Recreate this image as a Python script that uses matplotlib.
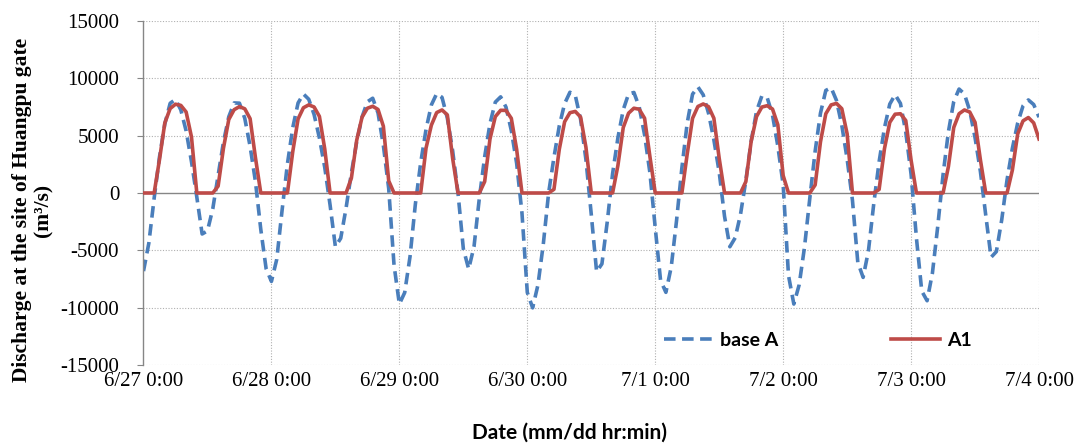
import numpy as np
import matplotlib.pyplot as plt

# hourly discharge at Huangpu gate, 6/27 0:00 .. 7/4 0:00 (m3/s)
base_a = [
    -6800, -4370, -450, 3140, 6010, 7810, 8140, 7240, 5400, 2730, -350,
    -3570, -3300, -1370, 1560, 4440, 6640, 7840, 7820, 6500, 4060, 1000, -3160,
    -6580, -7700, -5770, -1500, 2530, 5690, 7840, 8620, 8160, 6840, 4790, 2230, -1040,
    -4680, -3940, -1320, 1750, 4470, 6620, 7940, 8250, 6960, 4140, 390, -6280,
    -9670, -8670, -5540, -980, 2630, 5530, 7660, 8650, 8330, 6520, 3660, 0,
    -4850, -6620, -4680, -470, 3140, 6050, 7910, 8370, 7480, 5440, 2590, -1740,
    -8660, -10000, -8000, -4460, 0, 3100, 5840, 7780, 8770, 8500, 6410, 2900, -1860,
    -6850, -6170, -2510, 1680, 4810, 7250, 8630, 8750, 7480, 5060, 1770, -3030,
    -7600, -8650, -6440, -2400, 2190, 6100, 8600, 9240, 8550, 6940, 4630, 1810, -2030,
    -4680, -3900, -1860, 1090, 4510, 7100, 8450, 8310, 6790, 4080, 710, -7180,
    -9670, -8000, -4730, -450, 3640, 6950, 8930, 9160, 8060, 5900, 2960, -640,
    -6030, -7350, -5030, -920, 2720, 5660, 7740, 8560, 7800, 5310, 1620, -3920,
    -8540, -9380, -6970, -2900, 1610, 5330, 7960, 9050, 8620, 7170, 4810, 1880, -1920,
    -5600, -5100, -2340, 1150, 3890, 6100, 7590, 8100, 7700, 6600,
]

a1 = [
    0, 0, 0, 2900, 6100, 7350, 7730, 7630, 7050, 4880, 0,
    0, 0, 0, 600, 3900, 6400, 7250, 7520, 7330, 6470, 3080, 0,
    0, 0, 0, 0, 0, 3600, 6450, 7420, 7670, 7490, 6670, 3840, 0,
    0, 0, 0, 1300, 4600, 6600, 7380, 7550, 7270, 5810, 1060, 0,
    0, 0, 0, 0, 0, 3900, 5900, 7000, 7230, 6800, 3000, 0,
    0, 0, 0, 0, 990, 4700, 6650, 7200, 7190, 6500, 3800, 0,
    0, 0, 0, 0, 0, 320, 3800, 6200, 6990, 7100, 6610, 3980, 0,
    0, 0, 0, 0, 2400, 5700, 6950, 7380, 7290, 6510, 3180, 0,
    0, 0, 0, 0, 0, 3400, 6500, 7530, 7750, 7520, 6510, 3020, 0,
    0, 0, 0, 990, 4500, 6650, 7480, 7600, 7310, 5940, 1520, 0,
    0, 0, 0, 0, 700, 4450, 6900, 7670, 7800, 7340, 5150, 0,
    0, 0, 0, 0, 310, 3850, 6150, 6860, 6900, 6310, 2850, 0,
    0, 0, 0, 0, 0, 2300, 5700, 6900, 7230, 7050, 6150, 2890, 0,
    0, 0, 0, 0, 2000, 5150, 6280, 6570, 6100, 4700,
]

day_labels = ['6/27 0:00', '6/28 0:00', '6/29 0:00', '6/30 0:00',
              '7/1 0:00', '7/2 0:00', '7/3 0:00', '7/4 0:00']
y_ticks = [-15000, -10000, -5000, 0, 5000, 10000, 15000]

hours = np.arange(len(base_a))
serif = 'Liberation Serif'
sans = 'Lato'

fig = plt.figure(figsize=(10.83, 4.47), dpi=100)
ax = fig.add_axes([0.1325, 0.1828, 0.8269, 0.7709])

grid_kw = dict(color='#b0b0b0', lw=0.8, ls=(0, (1, 1.5)), zorder=0)
for y in y_ticks:
    if y != 0:
        ax.axhline(y, **grid_kw)
for i in range(1, len(day_labels)):
    ax.axvline(i * 24, **grid_kw)
ax.axhline(0, color='#868686', lw=1.0, zorder=1)

ax.plot(hours, base_a, color='#4a7ebb', lw=2.6, ls=(0, (3.2, 1.8)),
        dash_joinstyle='round', label='base A', zorder=2)
ax.plot(hours, a1, color='#be4b48', lw=2.6, solid_joinstyle='round',
        label='A1', zorder=3)

ax.set_xlim(0, 24 * (len(day_labels) - 1))
ax.set_ylim(-15000, 15000)
ax.set_xticks(np.arange(len(day_labels)) * 24)
ax.set_xticklabels(day_labels, fontfamily=serif, fontsize=15)
ax.set_yticks(y_ticks)
ax.set_yticklabels([str(v) for v in y_ticks], fontfamily=serif, fontsize=15)
ax.tick_params(axis='x', length=0, pad=5)
ax.tick_params(axis='y', length=4.5, width=0.8, color='#868686', pad=13)

for s in ['top', 'right', 'bottom']:
    ax.spines[s].set_visible(False)
ax.spines['left'].set_color('#868686')
ax.spines['left'].set_linewidth(1.0)

fig.text(0.030, 0.530, 'Discharge at the site of Huangpu gate\n(m\u00b3/s)',
         rotation=90, ha='center', va='center', ma='center',
         fontfamily=serif, fontweight='bold', fontsize=15.5, linespacing=1.1)
fig.text(0.526, 0.031, 'Date (mm/dd hr:min)', ha='center', va='center',
         fontfamily=sans, fontweight='bold', fontsize=15)

ax.legend(loc='center', bbox_to_anchor=(0.753, 0.073), ncol=2, frameon=False,
          prop={'family': sans, 'weight': 'bold', 'size': 14},
          handlelength=2.5, handletextpad=0.4, columnspacing=5.8)

plt.savefig('out.png', dpi=100)
